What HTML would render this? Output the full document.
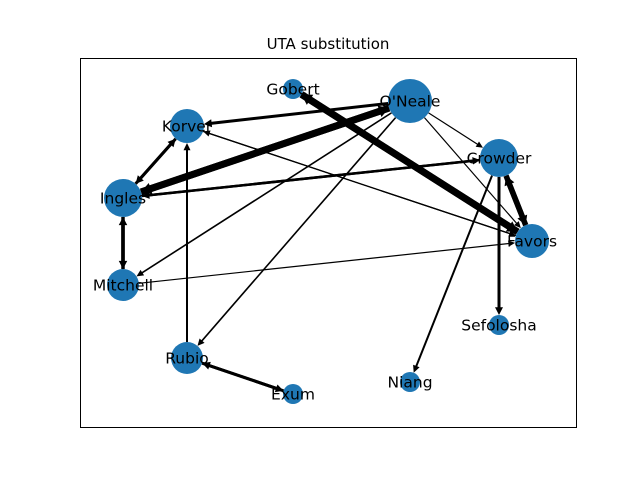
<!DOCTYPE html>
<html><head><meta charset="utf-8"><style>
body{margin:0;background:#fff;}
svg{display:block;font-family:"DejaVu Sans","Liberation Sans",sans-serif;}
</style></head><body>
<svg id="chart" width="640" height="480" viewBox="0 0 640 480">
<rect x="0" y="0" width="640" height="480" fill="#fff"/>
<text x="328" y="49" text-anchor="middle" font-size="15">UTA substitution</text>
<rect x="80.5" y="58.5" width="496" height="369" fill="none" stroke="#000" stroke-width="1"/>
<g id="nodes"></g>
<g id="edges"></g>
<g id="labels"></g>
</svg>
<script>
const names = ["Gobert","O'Neale","Korver","Crowder","Ingles","Favors","Mitchell","Sefolosha","Rubio","Niang","Exum"];
const nodeX = [293,410,187,499,123,532,123,499,187,410,293];
const nodeY = [89,101,126,158,198,241,285,325,358,382,394];
const nodeR = [10,22,17,19,19,17,16,10,16,10,10];
const edgeSrc = ["O'Neale","O'Neale","Ingles","O'Neale","O'Neale","O'Neale","O'Neale","Gobert","Favors","Korver","Ingles","Korver","Favors","Crowder","Ingles","Crowder","Favors","Crowder","Crowder","Ingles","Mitchell","Mitchell","Rubio","Rubio","Exum"];
const edgeDst = ["Korver","Ingles","O'Neale","Crowder","Favors","Mitchell","Rubio","Favors","Gobert","Ingles","Korver","Favors","Korver","Ingles","Crowder","Favors","Crowder","Sefolosha","Niang","Mitchell","Ingles","Favors","Korver","Exum","Rubio"];
const edgeW = [3,7,7,1.2,1.2,1.6,1.6,7,7,3,3,1.3,1.3,2.5,2.5,5.5,5.5,3,2,3.5,3.5,1.2,2,3,3];

const NS="http://www.w3.org/2000/svg";
const eg=document.getElementById('edges'), ng=document.getElementById('nodes'), lg=document.getElementById('labels');
function idx(n){return names.indexOf(n);}
for(let k=0;k<edgeSrc.length;k++){
  const a=idx(edgeSrc[k]), b=idx(edgeDst[k]), w=edgeW[k];
  const x1=nodeX[a],y1=nodeY[a],x2=nodeX[b],y2=nodeY[b];
  const dx=x2-x1,dy=y2-y1,L=Math.hypot(dx,dy),ux=dx/L,uy=dy/L;
  const tx=x2-ux*nodeR[b], ty=y2-uy*nodeR[b];
  const sx=x1+ux*nodeR[a], sy=y1+uy*nodeR[a];
  const hl=6+w*0.6, hw=2.5+w*0.5;
  const bx=tx-ux*hl, by=ty-uy*hl;
  const line=document.createElementNS(NS,'line');
  
  
  line.setAttribute('x1',sx);line.setAttribute('y1',sy);
  line.setAttribute('x2',bx+ux*2);line.setAttribute('y2',by+uy*2);
  line.setAttribute('stroke','#000');line.setAttribute('stroke-width',w);
  eg.appendChild(line);
  const head=document.createElementNS(NS,'polygon');
  
  
  const px=-uy,py=ux;
  head.setAttribute('points',`${tx},${ty} ${bx+px*hw},${by+py*hw} ${bx-px*hw},${by-py*hw}`);
  head.setAttribute('fill','#000');
  eg.appendChild(head);
}
for(let i=0;i<names.length;i++){
  const c=document.createElementNS(NS,'circle');
  
  
  c.setAttribute('cx',nodeX[i]);c.setAttribute('cy',nodeY[i]);c.setAttribute('r',nodeR[i]);
  c.setAttribute('fill','#1f77b4');
  ng.appendChild(c);
  const t=document.createElementNS(NS,'text');
  
  
  t.setAttribute('x',nodeX[i]);t.setAttribute('y',nodeY[i]+5.5);
  t.setAttribute('text-anchor','middle');t.setAttribute('font-size','15.5');
  t.textContent=names[i];
  lg.appendChild(t);
}
</script>
</body></html>
